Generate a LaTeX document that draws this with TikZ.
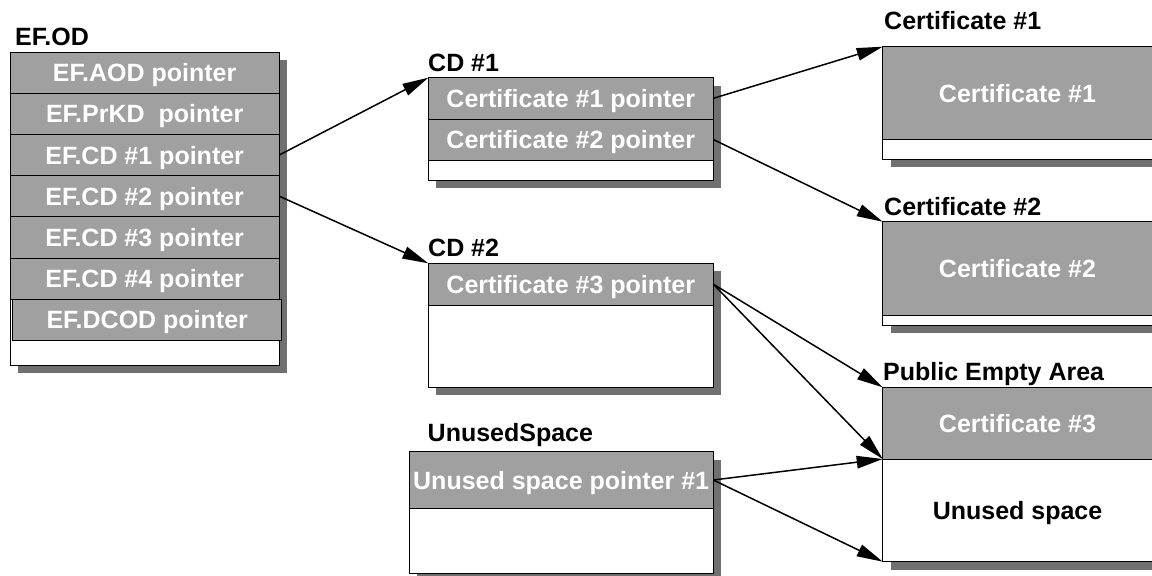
\documentclass[tikz,border=0pt]{standalone}
\usepackage{fontspec}
\setmainfont{Liberation Sans}
\usetikzlibrary{arrows.meta,positioning,shadows}

\definecolor{cellgray}{RGB}{160,160,160}
\definecolor{shadowgray}{RGB}{112,112,112}

\tikzset{
  store/.style={draw, fill=white, line width=0.8pt, inner sep=0pt, outer sep=0pt,
    drop shadow={shadow xshift=8pt, shadow yshift=-8pt, fill=shadowgray, opacity=1}},
  cell/.style={draw, fill=cellgray, text=white, line width=0.8pt, inner sep=0pt, outer sep=0pt,
    font=\fontsize{25}{30}\selectfont\bfseries, text height=18pt, text depth=0pt},
  title/.style={anchor=base west, inner sep=0pt, font=\fontsize{25}{30}\selectfont\bfseries},
  link/.style={-{Triangle[length=26pt,width=12.5pt]}, line width=1.5pt}
}

\begin{document}
\begin{tikzpicture}[x=1pt, y=-1pt]
  \useasboundingbox (0,0) rectangle (1152,576);
  \clip (0,0) rectangle (1152,576);

  %EF.OD
  \node[title] (odtitle) at (15,45) {EF.OD};
  \node[store, minimum width=269.3pt, minimum height=313pt] (od) at (144.65,208.5) {};
  \node[cell, minimum width=269.3pt, minimum height=41.2pt] (aod) at (144.65,72.6) {EF.AOD pointer};
  \node[cell, minimum width=269.3pt, minimum height=41.2pt] (prkd) at (144.65,113.8) {EF.PrKD~ pointer};
  \node[cell, minimum width=269.3pt, minimum height=41.2pt] (efcdone) at (144.65,155) {EF.CD \#1 pointer};
  \node[cell, minimum width=269.3pt, minimum height=41.2pt] (efcdtwo) at (144.65,196.2) {EF.CD \#2 pointer};
  \node[cell, minimum width=269.3pt, minimum height=41.2pt] (efcdthree) at (144.65,237.4) {EF.CD \#3 pointer};
  \node[cell, minimum width=269.3pt, minimum height=41.2pt] (efcdfour) at (144.65,278.6) {EF.CD \#4 pointer};
  \node[cell, minimum width=269.3pt, minimum height=40.8pt] (dcod) at (147.2,319.6) {EF.DCOD pointer};

  %CD #1
  \node[title] (cdonetitle) at (428,71.7) {CD \#1};
  \node[store, minimum width=285pt, minimum height=102.3pt] (cdone) at (570.8,128.85) {};
  \node[cell, minimum width=285pt, minimum height=41.3pt] (certoneptr) at (570.8,98.35) {Certificate \#1 pointer};
  \node[cell, minimum width=285pt, minimum height=41pt] (certtwoptr) at (570.8,139.5) {Certificate \#2 pointer};

  %CD #2
  \node[title] (cdtwotitle) at (428,256.7) {CD \#2};
  \node[store, minimum width=285pt, minimum height=124pt] (cdtwo) at (570.8,325.3) {};
  \node[cell, minimum width=285pt, minimum height=41.7pt] (certthreeptr) at (570.8,284.15) {Certificate \#3 pointer};

  %UnusedSpace
  \node[title] (unusedtitle) at (427.5,441) {UnusedSpace};
  \node[store, minimum width=304.3pt, minimum height=121.6pt] (unused) at (561.15,512.5) {};
  \node[cell, minimum width=304.3pt, minimum height=56.6pt] (unusedptr) at (561.15,480) {Unused space pointer \#1};

  %certificates
  \node[title] (certonetitle) at (884,29) {Certificate \#1};
  \node[store, minimum width=269.6pt, minimum height=112.6pt] (certone) at (1017.5,103) {};
  \node[cell, minimum width=269.6pt, minimum height=92.6pt] (certonebody) at (1017.5,93) {Certificate \#1};

  \node[title] (certtwotitle) at (884,215) {Certificate \#2};
  \node[store, minimum width=269.6pt, minimum height=103.3pt] (certtwo) at (1017.5,273.35) {};
  \node[cell, minimum width=269.6pt, minimum height=93.3pt] (certtwobody) at (1017.5,268.35) {Certificate \#2};

  %public empty area
  \node[title] (peatitle) at (883,380) {Public Empty Area};
  \node[store, minimum width=269.6pt, minimum height=174.4pt] (pea) at (1017.5,474.5) {};
  \node[cell, minimum width=269.6pt, minimum height=71.7pt] (certthree) at (1017.5,423.15) {Certificate \#3};
  \node[font=\fontsize{25}{30}\selectfont\bfseries, text height=18pt, text depth=0pt, inner sep=0pt] (freespace) at (1017.5,510.35) {Unused space};

  \draw[link] (efcdone.east) -- (cdone.north west);
  \draw[link] (efcdtwo.east) -- (cdtwo.north west);
  \draw[link] (certoneptr.east) -- (certone.north west);
  \draw[link] (certtwoptr.east) -- (certtwo.north west);
  \draw[link] (certthreeptr.east) -- (pea.north west);
  \draw[link] (certthreeptr.east) -- (certthree.south west);
  \draw[link] (unusedptr.east) -- (certthree.south west);
  \draw[link] (unusedptr.east) -- (pea.south west);
\end{tikzpicture}
\end{document}
